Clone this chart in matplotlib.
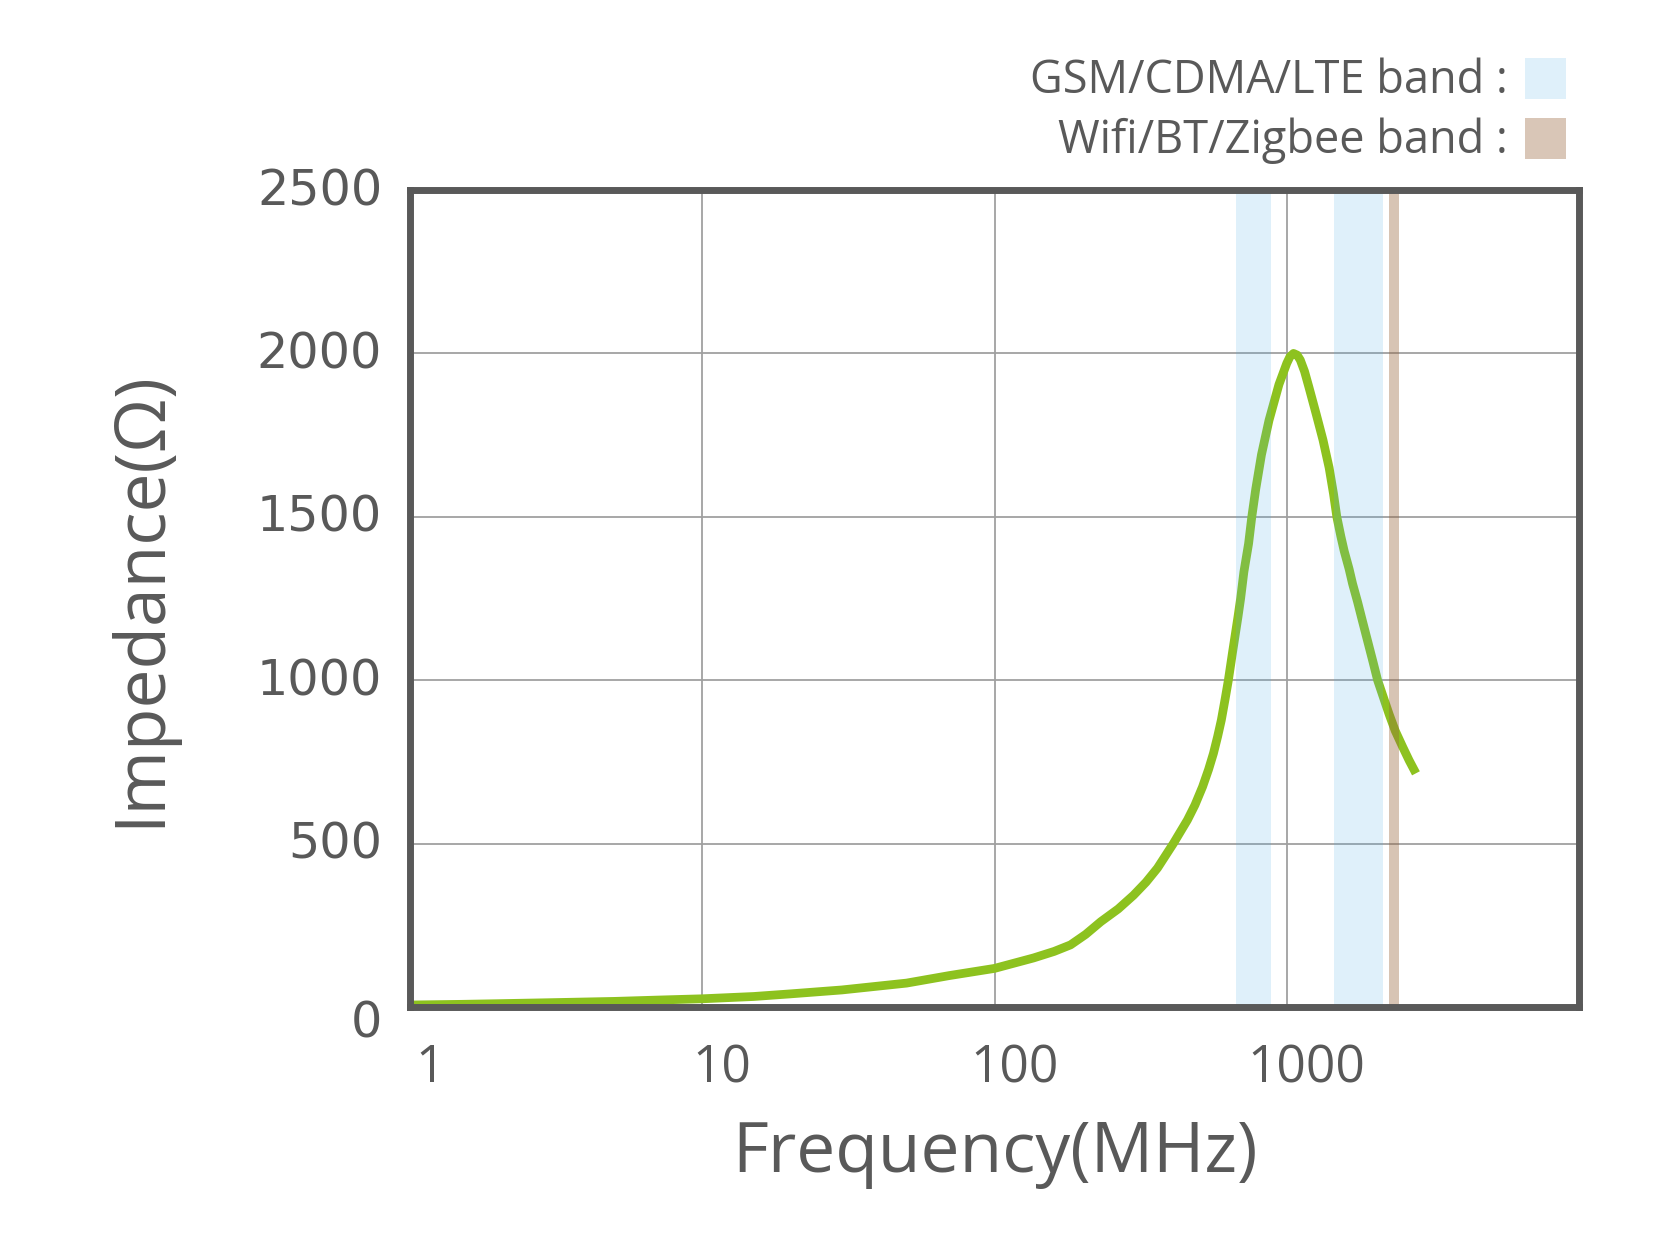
import matplotlib

matplotlib.use("Agg")
import matplotlib.pyplot as plt
import matplotlib.transforms as mtransforms
from matplotlib.patches import Rectangle

# impedance curve (MHz, ohm)
freq_mhz = [1, 1.5, 2, 3, 5, 7, 10, 15, 20, 30, 50, 70, 100, 136, 160, 182,
            205, 231, 265, 299, 330, 361, 409, 457, 485, 515, 540, 561, 580,
            597, 615, 631, 652, 681, 695, 713, 740, 759, 783, 819, 869, 940,
            1000, 1025, 1054, 1085, 1112, 1150, 1191, 1260, 1330, 1396, 1445,
            1483, 1531, 1572, 1634, 1679, 1746, 1816, 1890, 1967, 2045, 2183,
            2241, 2350, 2491, 2620, 2766]
impedance = [6, 8, 10, 13, 17, 21, 25, 32, 40, 52, 73, 96, 118, 150, 170, 190,
             222, 261, 300, 342, 382, 425, 500, 572, 618, 674, 727, 776, 828,
             878, 942, 1000, 1085, 1195, 1250, 1331, 1418, 1500, 1585, 1690,
             1795, 1905, 1970, 1990, 2000, 1995, 1980, 1945, 1896, 1815, 1735,
             1650, 1570, 1500, 1440, 1395, 1340, 1295, 1240, 1180, 1120, 1060,
             1000, 925, 895, 845, 796, 755, 715]

# frequency bands (MHz)
cellular_bands = [(670, 882), (1450, 2130)]
wireless_bands = [(2240, 2420)]

x_ticks = [1, 10, 100, 1000]
x_tick_labels = ["1", "10", "100", "1000"]
y_ticks = [0, 500, 1000, 1500, 2000, 2500]
y_tick_labels = ["0", "500", "1000", "1500", "2000", "2500"]

legend_labels = ["GSM/CDMA/LTE band :", "Wifi/BT/Zigbee band :"]

TEXT = "#595959"
GREEN = "#8DC21F"
BLUE = "#4EACE4"
TAN = "#96643C"

fig = plt.figure(figsize=(16.77, 12.43), dpi=100)
ax = fig.add_axes([0.2445, 0.1899, 0.6971, 0.6572])

ax.plot(freq_mhz, impedance, color=GREEN, lw=6.3, solid_capstyle="butt",
        solid_joinstyle="round", zorder=2)
for lo, hi in cellular_bands:
    ax.axvspan(lo, hi, color=BLUE, alpha=0.18, lw=0, zorder=3)
for lo, hi in wireless_bands:
    ax.axvspan(lo, hi, color=TAN, alpha=0.38, lw=0, zorder=3)

ax.set_xscale("log")
ax.set_xlim(1, 10000)
ax.set_ylim(0, 2500)
ax.set_xticks(x_ticks)
ax.set_xticklabels(x_tick_labels, family="Open Sans", fontsize=37, color=TEXT)
ax.xaxis.set_minor_locator(matplotlib.ticker.NullLocator())
ax.set_yticks(y_ticks)
ax.set_yticklabels(y_tick_labels, family="DejaVu Sans", fontsize=35.5, color=TEXT)
ax.tick_params(axis="both", length=0)
ax.tick_params(axis="x", pad=26)
ax.tick_params(axis="y", pad=20)

# x labels sit a little to the right of their gridlines
shift = mtransforms.ScaledTranslation(0.20, 0, fig.dpi_scale_trans)
for lbl in ax.get_xticklabels():
    lbl.set_transform(lbl.get_transform() + shift)
# y labels sit slightly above their gridlines, except the 0 which sits below
for i, lbl in enumerate(ax.get_yticklabels()):
    dy = -0.12 if i == 0 else 0.04
    lbl.set_transform(lbl.get_transform() + mtransforms.ScaledTranslation(0, dy, fig.dpi_scale_trans))

ax.grid(True, color="#A0A0A0", lw=1.3)
ax.set_axisbelow(True)
for spine in ax.spines.values():
    spine.set_color(TEXT)
    spine.set_linewidth(5)
    spine.set_zorder(5)

ax.set_xlabel("Frequency(MHz)", family="Open Sans", fontsize=50, color=TEXT, labelpad=18)
ax.set_ylabel("Impedance(Ω)", family="Open Sans", fontsize=50, color=TEXT, labelpad=58)

# custom legend in the top right corner
W, H = 1677, 1243
legend_colors = ["#DFF0FA", "#D9C6B7"]
legend_y = [78, 138]
for label, color, y in zip(legend_labels, legend_colors, legend_y):
    fig.text(1508 / W, 1 - (y + 3) / H, label, ha="right", va="center",
             family="Open Sans", fontsize=32.5, color=TEXT)
    fig.patches.append(Rectangle((1525 / W, 1 - (y + 21) / H), 41 / W, 41 / H,
                                 transform=fig.transFigure, color=color, lw=0))

fig.savefig("out.png", dpi=100)
plt.close(fig)
